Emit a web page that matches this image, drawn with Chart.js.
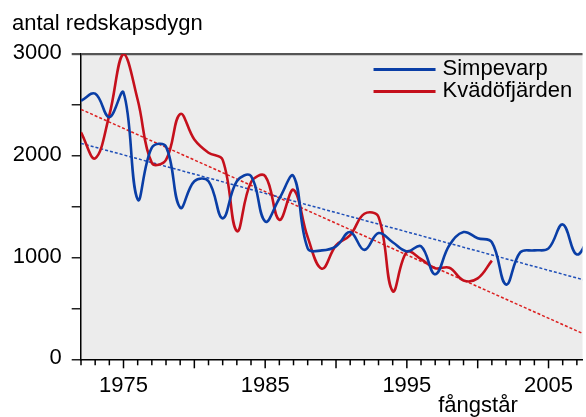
<!DOCTYPE html>
<html>
<head>
<meta charset="utf-8">
<script src="https://cdn.jsdelivr.net/npm/chart.js@4.4.1/dist/chart.umd.min.js"></script>
<style>
  html, body { margin: 0; padding: 0; background: #fff; overflow: hidden; }
  canvas { display: block; }
</style>
</head>
<body>
<canvas id="chart" width="586" height="417"></canvas>
<script>
// Fishing effort (gear-days) per catch year, two coastal sites
const years = [1972, 1973, 1974, 1975, 1976, 1977, 1978, 1979, 1980, 1981,
               1982, 1983, 1984, 1985, 1986, 1987, 1988, 1989, 1990, 1991,
               1992, 1993, 1994, 1995, 1996, 1997, 1998, 1999, 2000, 2001,
               2002, 2003, 2004, 2005, 2006, 2007, 2008];

const simpevarp = [2540, 2610, 2380, 2620, 1570, 2080, 2090, 1490, 1750, 1750,
                   1385, 1750, 1800, 1355, 1580, 1800, 1090, 1070, 1110, 1250,
                   1075, 1240, 1150, 1060, 1110, 835, 1120, 1250, 1190, 1150,
                   735, 1050, 1070, 1090, 1325, 1030, 1250];

const kvadofjarden = [2230, 1975, 2400, 3000, 2550, 1930, 1960, 2410, 2160, 2030,
                      1960, 1260, 1740, 1800, 1370, 1665, 1200, 890, 1120, 1220,
                      1430, 1400, 670, 1055, 985, 895, 900, 775, 795, 970];

// Linear trend lines, given by their values at the two end years
const trendYears = [1972, 2008];
const trendSimpevarp = [2122, 761];
const trendKvadofjarden = [2456, 217];

const yTickLabels = [0, 1000, 2000, 3000];
const xTickLabels = [1975, 1985, 1995, 2005];

const FONT = '"Liberation Sans", Arial, Helvetica, sans-serif';
const BLUE = '#0a3ea6';
const RED = '#c5101c';

const toPoints = (xs, ys) => ys.map((v, i) => ({ x: xs[i], y: v }));

// Light grey plot background
const plotBackground = {
  id: 'plotBackground',
  beforeDraw(chart) {
    const { ctx, chartArea: a } = chart;
    ctx.save();
    ctx.fillStyle = '#ececec';
    ctx.fillRect(a.left, a.top, a.right - a.left, a.bottom - a.top);
    ctx.restore();
  }
};

// One tick per year below the x axis, longer every fifth year
const yearTicks = {
  id: 'yearTicks',
  afterDraw(chart) {
    const xs = chart.scales.x;
    const ctx = chart.ctx;
    const base = chart.chartArea.bottom;
    ctx.save();
    ctx.strokeStyle = '#000';
    ctx.lineWidth = 1.5;
    for (let yr = Math.ceil(xs.min); yr <= Math.floor(xs.max); yr++) {
      const px = xs.getPixelForValue(yr);
      const len = yr % 5 === 0 ? 9 : 6;
      ctx.beginPath();
      ctx.moveTo(px, base);
      ctx.lineTo(px, base + len);
      ctx.stroke();
    }
    ctx.restore();
  }
};

// Axis captions and the in-plot legend
const captions = {
  id: 'captions',
  afterDraw(chart) {
    const ctx = chart.ctx;
    const a = chart.chartArea;
    ctx.save();
    ctx.fillStyle = '#000';
    ctx.font = '22px ' + FONT;
    ctx.textBaseline = 'alphabetic';
    ctx.textAlign = 'left';
    ctx.fillText('antal redskapsdygn', 12, 30);
    ctx.textAlign = 'center';
    ctx.fillText('fångstår', 478, 412);

    // legend
    const items = chart.data.datasets.filter(d => d.showInLegend);
    ctx.textAlign = 'left';
    ctx.textBaseline = 'middle';
    items.forEach((d, i) => {
      const y = a.top + 15.5 + i * 22;
      ctx.strokeStyle = d.borderColor;
      ctx.lineWidth = 2.8;
      ctx.beginPath();
      ctx.moveTo(a.right - 209, y);
      ctx.lineTo(a.right - 147, y);
      ctx.stroke();
      ctx.fillStyle = '#000';
      ctx.fillText(d.label, a.right - 140, y - 1);
    });
    ctx.restore();
  }
};

new Chart(document.getElementById('chart'), {
  type: 'line',
  data: {
    datasets: [
      {
        label: 'Simpevarp',
        showInLegend: true,
        data: toPoints(years, simpevarp),
        borderColor: BLUE,
        borderWidth: 2.6,
        tension: 0.4,
        pointRadius: 0
      },
      {
        label: 'Kvädöfjärden',
        showInLegend: true,
        data: toPoints(years, kvadofjarden),
        borderColor: RED,
        borderWidth: 2.6,
        tension: 0.4,
        pointRadius: 0
      },
      {
        label: 'Simpevarp trend',
        data: toPoints(trendYears, trendSimpevarp),
        borderColor: '#1f4fb8',
        borderWidth: 1.5,
        borderDash: [3, 2],
        tension: 0,
        pointRadius: 0
      },
      {
        label: 'Kvädöfjärden trend',
        data: toPoints(trendYears, trendKvadofjarden),
        borderColor: '#dc1f1f',
        borderWidth: 1.5,
        borderDash: [3, 2],
        tension: 0,
        pointRadius: 0
      }
    ]
  },
  options: {
    responsive: false,
    animation: false,
    devicePixelRatio: 1,
    layout: { padding: { top: 54, left: 0, right: 0, bottom: 0 } },
    plugins: {
      legend: { display: false },
      title: { display: false },
      tooltip: { enabled: false }
    },
    scales: {
      x: {
        type: 'linear',
        min: 1972,
        max: 2007.4,
        afterBuildTicks: s => { s.ticks = xTickLabels.map(v => ({ value: v })); },
        afterFit: s => { s.height = 57.7; },
        ticks: {
          autoSkip: false,
          maxRotation: 0,
          padding: 13,
          color: '#000',
          font: { family: FONT, size: 22 },
          callback: v => String(v)
        },
        grid: { drawOnChartArea: false, drawTicks: false },
        border: { display: true, color: '#000', width: 1.5 }
      },
      y: {
        min: 0,
        max: 3000,
        afterFit: s => { s.width = 81; },
        ticks: {
          stepSize: 500,
          padding: 10,
          labelOffset: -1,
          color: '#000',
          font: { family: FONT, size: 22 },
          callback: v => (yTickLabels.includes(v) ? String(v) : '')
        },
        grid: {
          drawOnChartArea: true,
          drawTicks: true,
          tickLength: 9.3,
          color: c => (c.tick && c.tick.value === 3000 ? '#555' : 'rgba(0,0,0,0)'),
          lineWidth: c => (c.tick && c.tick.value === 3000 ? 2.2 : 1.5),
          tickColor: c => (c.tick && c.tick.value === 3000 ? '#555' : '#222'),
          tickWidth: c => (c.tick && c.tick.value === 3000 ? 2.2 : 1.5)
        },
        border: { display: true, color: '#000', width: 1.5 }
      }
    }
  },
  plugins: [plotBackground, yearTicks, captions]
});
</script>
</body>
</html>
